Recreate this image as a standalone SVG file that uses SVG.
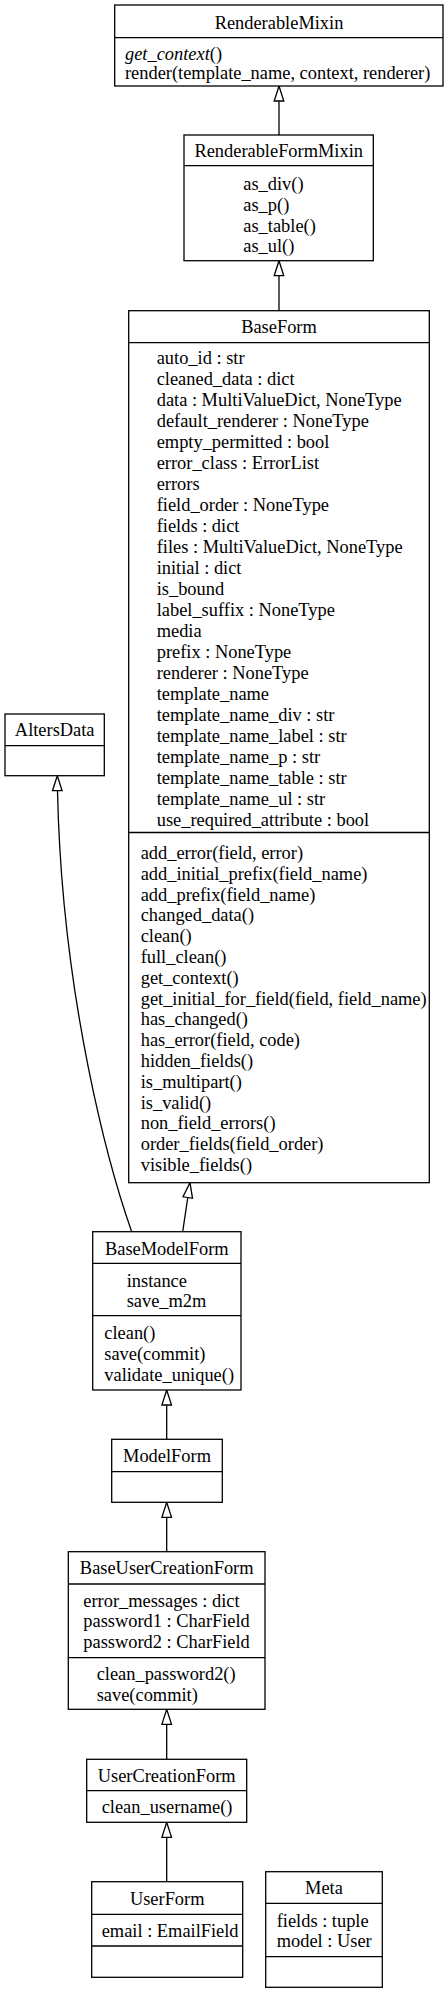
<svg xmlns="http://www.w3.org/2000/svg" width="448" height="1994" viewBox="0 0 448 1994">
<style>
.box{fill:#fff;stroke:#000;stroke-width:1.3}
.sep{stroke:#000;stroke-width:1.3}
text{font-family:"Liberation Serif","Times New Roman",serif;font-size:18.4px;fill:#000}
.t{text-anchor:middle}
.edge{fill:none;stroke:#000;stroke-width:1.3}
.head{fill:#fff;stroke:#000;stroke-width:1.3}
</style>
<rect width="448" height="1994" fill="#fff"/>
<g id="connectors">
  <line class="edge" x1="279" y1="101" x2="279" y2="135"/>
  <polygon class="head" points="279,86 283.8,101 274.2,101"/>
  <line class="edge" x1="279" y1="275.7" x2="279" y2="310.7"/>
  <polygon class="head" points="279,260.7 283.8,275.7 274.2,275.7"/>
  <line class="edge" x1="182.7" y1="1231.7" x2="187.8" y2="1197.5"/>
  <polygon class="head" points="190,1182.7 192.5,1198.3 183,1196.8"/>
  <path class="edge" d="M131.7,1231.7 C110,1170 62,1000 57.5,790.7"/>
  <polygon class="head" points="57.3,775.7 62.1,790.7 52.5,790.7"/>
  <line class="edge" x1="166.7" y1="1405" x2="166.7" y2="1439.3"/>
  <polygon class="head" points="166.7,1390 171.5,1405 161.9,1405"/>
  <line class="edge" x1="166.7" y1="1517.3" x2="166.7" y2="1551.7"/>
  <polygon class="head" points="166.7,1502.3 171.5,1517.3 161.9,1517.3"/>
  <line class="edge" x1="166.7" y1="1724.3" x2="166.7" y2="1759.3"/>
  <polygon class="head" points="166.7,1709.3 171.5,1724.3 161.9,1724.3"/>
  <line class="edge" x1="166.7" y1="1837.3" x2="166.7" y2="1881.7"/>
  <polygon class="head" points="166.7,1822.3 171.5,1837.3 161.9,1837.3"/>
</g>
<g id="RenderableMixin">
  <rect class="box" x="114.7" y="5" width="328.3" height="81"/>
  <line class="sep" x1="114.7" y1="37.7" x2="443" y2="37.7"/>
  <text class="t" x="279" y="29.3">RenderableMixin</text>
  <text x="125" y="60"><tspan font-style="italic">get_context</tspan>()</text>
  <text x="125" y="79">render(template_name, context, renderer)</text>
</g>
<g id="RenderableFormMixin">
  <rect class="box" x="184" y="135" width="189.3" height="125.7"/>
  <line class="sep" x1="184" y1="165.7" x2="373.3" y2="165.7"/>
  <text class="t" x="278.7" y="157.3">RenderableFormMixin</text>
  <text x="243.3" y="190.3">as_div()</text>
  <text x="243.3" y="210.9">as_p()</text>
  <text x="243.3" y="231.5">as_table()</text>
  <text x="243.3" y="252.1">as_ul()</text>
</g>
<g id="BaseForm">
  <rect class="box" x="128.7" y="310.7" width="300.6" height="872"/>
  <line class="sep" x1="128.7" y1="342.7" x2="429.3" y2="342.7"/>
  <line class="sep" x1="128.7" y1="832.5" x2="429.3" y2="832.5"/>
  <text class="t" x="279" y="333">BaseForm</text>
  <text x="156.7" y="364.3">auto_id : str</text>
  <text x="156.7" y="385.3">cleaned_data : dict</text>
  <text x="156.7" y="406.3">data : MultiValueDict, NoneType</text>
  <text x="156.7" y="427.3">default_renderer : NoneType</text>
  <text x="156.7" y="448.3">empty_permitted : bool</text>
  <text x="156.7" y="469.3">error_class : ErrorList</text>
  <text x="156.7" y="490.3">errors</text>
  <text x="156.7" y="511.3">field_order : NoneType</text>
  <text x="156.7" y="532.3">fields : dict</text>
  <text x="156.7" y="553.3">files : MultiValueDict, NoneType</text>
  <text x="156.7" y="574.3">initial : dict</text>
  <text x="156.7" y="595.3">is_bound</text>
  <text x="156.7" y="616.3">label_suffix : NoneType</text>
  <text x="156.7" y="637.3">media</text>
  <text x="156.7" y="658.3">prefix : NoneType</text>
  <text x="156.7" y="679.3">renderer : NoneType</text>
  <text x="156.7" y="700.3">template_name</text>
  <text x="156.7" y="721.3">template_name_div : str</text>
  <text x="156.7" y="742.3">template_name_label : str</text>
  <text x="156.7" y="763.3">template_name_p : str</text>
  <text x="156.7" y="784.3">template_name_table : str</text>
  <text x="156.7" y="805.3">template_name_ul : str</text>
  <text x="156.7" y="826.3">use_required_attribute : bool</text>
  <text x="140.7" y="859">add_error(field, error)</text>
  <text x="140.7" y="879.8">add_initial_prefix(field_name)</text>
  <text x="140.7" y="900.6">add_prefix(field_name)</text>
  <text x="140.7" y="921.4">changed_data()</text>
  <text x="140.7" y="942.2">clean()</text>
  <text x="140.7" y="963">full_clean()</text>
  <text x="140.7" y="983.8">get_context()</text>
  <text x="140.7" y="1004.6">get_initial_for_field(field, field_name)</text>
  <text x="140.7" y="1025.4">has_changed()</text>
  <text x="140.7" y="1046.2">has_error(field, code)</text>
  <text x="140.7" y="1067">hidden_fields()</text>
  <text x="140.7" y="1087.8">is_multipart()</text>
  <text x="140.7" y="1108.6">is_valid()</text>
  <text x="140.7" y="1129.4">non_field_errors()</text>
  <text x="140.7" y="1150.2">order_fields(field_order)</text>
  <text x="140.7" y="1171">visible_fields()</text>
</g>
<g id="AltersData">
  <rect class="box" x="5" y="714" width="99.3" height="61.7"/>
  <line class="sep" x1="5" y1="745.7" x2="104.3" y2="745.7"/>
  <text class="t" x="54.7" y="736">AltersData</text>
</g>
<g id="BaseModelForm">
  <rect class="box" x="92.7" y="1231.7" width="148.3" height="158.3"/>
  <line class="sep" x1="92.7" y1="1263.3" x2="241" y2="1263.3"/>
  <line class="sep" x1="92.7" y1="1315.7" x2="241" y2="1315.7"/>
  <text class="t" x="166.8" y="1255">BaseModelForm</text>
  <text x="126.7" y="1286.7">instance</text>
  <text x="126.7" y="1307.3">save_m2m</text>
  <text x="104.3" y="1339">clean()</text>
  <text x="104.3" y="1360">save(commit)</text>
  <text x="104.3" y="1380.7">validate_unique()</text>
</g>
<g id="ModelForm">
  <rect class="box" x="111.7" y="1439.3" width="110.6" height="63"/>
  <line class="sep" x1="111.7" y1="1471.7" x2="222.3" y2="1471.7"/>
  <text class="t" x="167" y="1461.7">ModelForm</text>
</g>
<g id="BaseUserCreationForm">
  <rect class="box" x="68.3" y="1551.7" width="196.7" height="157.6"/>
  <line class="sep" x1="68.3" y1="1584" x2="265" y2="1584"/>
  <line class="sep" x1="68.3" y1="1657.7" x2="265" y2="1657.7"/>
  <text class="t" x="166.7" y="1574.3">BaseUserCreationForm</text>
  <text x="83.3" y="1606.7">error_messages : dict</text>
  <text x="83.3" y="1627.3">password1 : CharField</text>
  <text x="83.3" y="1648.3">password2 : CharField</text>
  <text x="96.7" y="1680">clean_password2()</text>
  <text x="96.7" y="1700.7">save(commit)</text>
</g>
<g id="UserCreationForm">
  <rect class="box" x="86.7" y="1759.3" width="160" height="63"/>
  <line class="sep" x1="86.7" y1="1790.7" x2="246.7" y2="1790.7"/>
  <text class="t" x="166.7" y="1781.7">UserCreationForm</text>
  <text x="101.7" y="1813.3">clean_username()</text>
</g>
<g id="UserForm">
  <rect class="box" x="91.7" y="1881.7" width="151" height="95.6"/>
  <line class="sep" x1="91.7" y1="1914.3" x2="242.7" y2="1914.3"/>
  <line class="sep" x1="91.7" y1="1946" x2="242.7" y2="1946"/>
  <text class="t" x="167.2" y="1905">UserForm</text>
  <text x="101.7" y="1936.7">email : EmailField</text>
</g>
<g id="Meta">
  <rect class="box" x="265.7" y="1871.7" width="116.6" height="115.6"/>
  <line class="sep" x1="265.7" y1="1903.3" x2="382.3" y2="1903.3"/>
  <line class="sep" x1="265.7" y1="1956.7" x2="382.3" y2="1956.7"/>
  <text class="t" x="324" y="1894.3">Meta</text>
  <text x="276.7" y="1926.7">fields : tuple</text>
  <text x="276.7" y="1947.3">model : User</text>
</g>
</svg>
